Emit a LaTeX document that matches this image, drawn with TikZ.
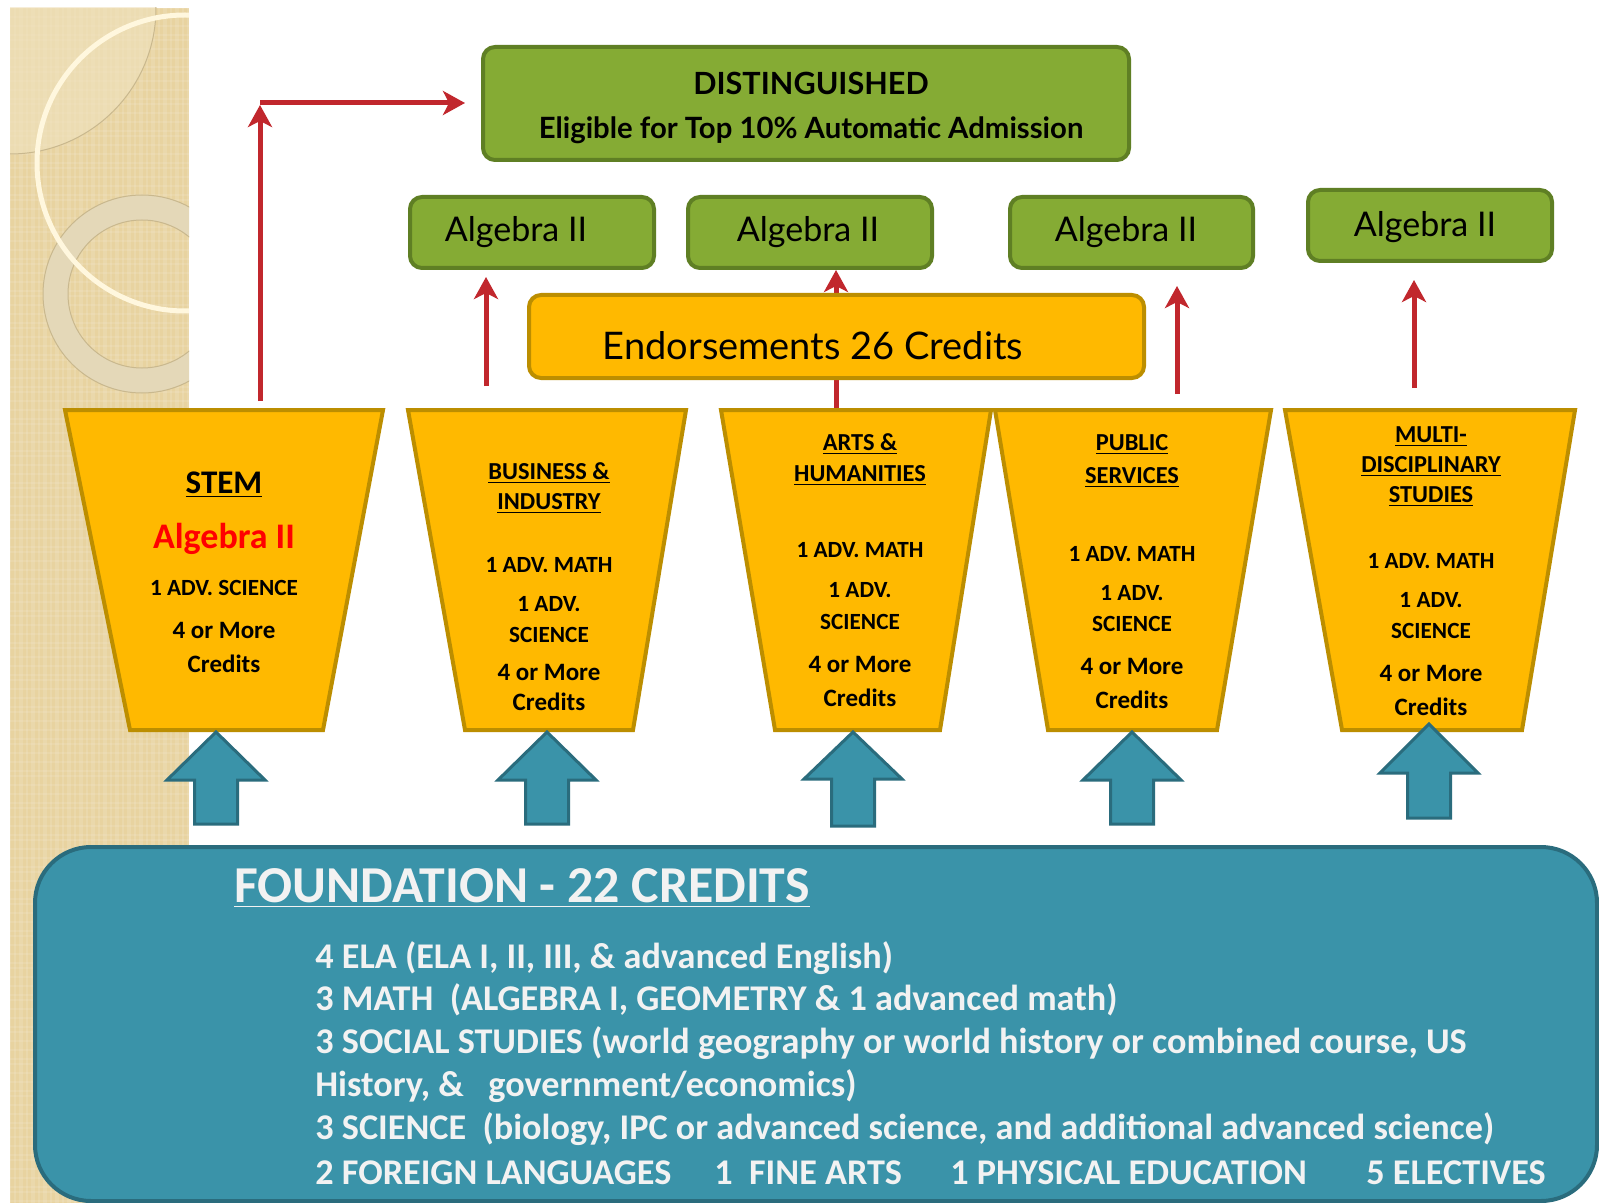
\documentclass[tikz,border=0pt]{standalone}
\usepackage{fontspec}
\setmainfont{Carlito}
\newfontfamily\gillf{Lato}
\usetikzlibrary{arrows.meta}
\definecolor{grnf}{HTML}{85AB34}
\definecolor{grnb}{HTML}{5F7F24}
\definecolor{ambf}{HTML}{FFB900}
\definecolor{ambb}{HTML}{BC8E00}
\definecolor{tealf}{HTML}{3A93A9}
\definecolor{tealb}{HTML}{2A6C7D}
\definecolor{redc}{HTML}{C1272D}
\definecolor{paper}{HTML}{E8D3A0}
\definecolor{paperl}{HTML}{F0E2BE}
\definecolor{ringc}{HTML}{E4D8B8}
\definecolor{ringb}{HTML}{C9B88E}
\definecolor{creamc}{HTML}{FFF7DE}
\definecolor{fndtxt}{HTML}{F2F2F2}
\newcommand\fsz[1]{\fontsize{#1}{#1}\selectfont}
\begin{document}
\begin{tikzpicture}[x=0.5pt,y=-0.5pt,
  greenbox/.style={draw=grnb, fill=grnf, line width=2pt, rounded corners=6pt, inner sep=0},
  ambbox/.style={draw=ambb, fill=ambf, line width=2pt, rounded corners=6pt, inner sep=0},
  trapz/.style={draw=ambb, fill=ambf, line width=2pt, line join=miter},
  bluearr/.style={draw=tealb, fill=tealf, line width=1.5pt, line join=miter},
  redarr/.style={draw=redc, line width=2.5pt, -{Stealth[length=11pt,width=12pt,inset=3pt]}},
  tx/.style={inner sep=0, anchor=mid},
  hd/.style={tx, font=\bfseries\fsz{12.2pt}},
  sm/.style={tx, font=\bfseries\fsz{11.6pt}},
  md/.style={tx, font=\bfseries\fsz{12.5pt}},
  alg/.style={tx, font=\gillf\fsz{17pt}},
  fl/.style={inner sep=0, anchor=mid west, text=fndtxt, font=\bfseries\fsz{18.1pt}}
]
\useasboundingbox (0,0) rectangle (1599,1203);
\fill[white] (0,0) rectangle (1599,1203);

% textured strip
\begin{scope}
\clip (10,8) rectangle (189,1203);
\fill[paper] (10,8) rectangle (189,1203);
\foreach \i in {0,...,44} {
  \draw[white, opacity=0.12, line width=0.6pt] ({10+\i*4+mod(\i*7,3)},8) -- ++(0,1195);
}
\foreach \j in {0,...,149} {
  \draw[white, opacity=0.10, line width=0.6pt] (10,{8+\j*8+mod(\j*5,4)}) -- ++(179,0);
}
\fill[paperl, opacity=0.6] (10,8) circle[radius=146];
\draw[ringb, line width=0.5pt] (10,8) circle[radius=146];
\fill[ringc, even odd rule] (142,294) circle[radius=99] (142,294) circle[radius=74];
\draw[ringb, line width=0.5pt] (142,294) circle[radius=99] (142,294) circle[radius=74];
\draw[creamc, line width=2.5pt] (185,163) circle[radius=148];
\end{scope}

% red connectors (drawn first, behind boxes)
\coordinate (s1) at (260,401);
\coordinate (s1t) at (260,105);
\coordinate (h1s) at (260,103);
\coordinate (h1e) at (465,103);
\coordinate (s2) at (486,386);
\coordinate (s2t) at (486,277);
\coordinate (s3) at (836,410);
\coordinate (s3t) at (836,270);
\coordinate (s4) at (1177,394);
\coordinate (s4t) at (1177,286);
\coordinate (s5) at (1414,388);
\coordinate (s5t) at (1414,280);
\draw[redarr] (s1) -- (s1t);
\draw[redarr] (h1s) -- (h1e);
\draw[redarr] (s2) -- (s2t);
\draw[redarr] (s3) -- (s3t);
\draw[redarr] (s4) -- (s4t);
\draw[redarr] (s5) -- (s5t);

% distinguished box
\node[greenbox, minimum width=323pt, minimum height=56.5pt] (dist) at (806,103.5) {};
\node[tx, font=\gillf\bfseries\fsz{15.3pt}] (distA) at (811,90) {DISTINGUISHED};
\node[tx, font=\gillf\bfseries\fsz{14.65pt}] (distB) at (811,134) {Eligible for Top 10\% Automatic Admission};

% algebra boxes
\node[greenbox, minimum width=122pt, minimum height=35.5pt] (alg1) at (532,232.5) {};
\node[greenbox, minimum width=122pt, minimum height=35.5pt] (alg2) at (810,232.5) {};
\node[greenbox, minimum width=121.5pt, minimum height=35.5pt] (alg3) at (1131.5,232.5) {};
\node[greenbox, minimum width=122pt, minimum height=35.5pt] (alg4) at (1430,225.5) {};
\node[alg] (alg1t) at (516,237) {Algebra II};
\node[alg] (alg2t) at (808,237) {Algebra II};
\node[alg] (alg3t) at (1126,237) {Algebra II};
\node[alg] (alg4t) at (1425,232) {Algebra II};

% endorsements
\node[ambbox, minimum width=307.5pt, minimum height=41.5pt] (endo) at (836.5,336.5) {};
\node[tx, font=\gillf\fsz{19pt}] (endot) at (813,355) {Endorsements 26 Credits};

% trapezoids
\draw[trapz] (65,410) -- (383,410) -- (323,730) -- (130,730) -- cycle;
\draw[trapz] (408,410) -- (686,410) -- (633,730) -- (465,730) -- cycle;
\draw[trapz] (721,410) -- (991,410) -- (940,730) -- (775,730) -- cycle;
\draw[trapz] (995,410) -- (1271,410) -- (1217,730) -- (1048,730) -- cycle;
\draw[trapz] (1285,410) -- (1575,410) -- (1522,730) -- (1342,730) -- cycle;

% STEM
\node[tx, font=\bfseries\fsz{16.5pt}] (t1a) at (224,489) {\underline{STEM}};
\node[tx, font=\bfseries\fsz{18pt}, text=red] (t1b) at (224,544) {Algebra II};
\node[sm] (t1c) at (224,591) {1 ADV. SCIENCE};
\node[md] (t1d) at (224,634) {4 or More};
\node[md] (t1e) at (224,668) {Credits};
% Business
\node[hd] (t2a) at (549,475) {\underline{BUSINESS \&}};
\node[hd] (t2b) at (549,505) {\underline{INDUSTRY}};
\node[sm] (t2c) at (549,568) {1 ADV. MATH};
\node[sm] (t2d) at (549,607) {1 ADV.};
\node[sm] (t2e) at (549,638) {SCIENCE};
\node[md] (t2f) at (549,676) {4 or More};
\node[md] (t2g) at (549,706) {Credits};
% Arts
\node[hd] (t3a) at (860,446) {\underline{ARTS \&}};
\node[hd] (t3b) at (860,477) {\underline{HUMANITIES}};
\node[sm] (t3c) at (860,553) {1 ADV. MATH};
\node[sm] (t3d) at (860,593) {1 ADV.};
\node[sm] (t3e) at (860,625) {SCIENCE};
\node[md] (t3f) at (860,668) {4 or More};
\node[md] (t3g) at (860,702) {Credits};
% Public
\node[hd] (t4a) at (1132,446) {\underline{PUBLIC}};
\node[hd] (t4b) at (1132,479) {\underline{SERVICES}};
\node[sm] (t4c) at (1132,557) {1 ADV. MATH};
\node[sm] (t4d) at (1132,596) {1 ADV.};
\node[sm] (t4e) at (1132,627) {SCIENCE};
\node[md] (t4f) at (1132,670) {4 or More};
\node[md] (t4g) at (1132,704) {Credits};
% Multi
\node[hd] (t5a) at (1431,438) {\underline{MULTI-}};
\node[hd] (t5b) at (1431,468) {\underline{DISCIPLINARY}};
\node[hd] (t5c) at (1431,498) {\underline{STUDIES}};
\node[sm] (t5d) at (1431,564) {1 ADV. MATH};
\node[sm] (t5e) at (1431,603) {1 ADV.};
\node[sm] (t5f) at (1431,634) {SCIENCE};
\node[md] (t5g) at (1431,677) {4 or More};
\node[md] (t5h) at (1431,711) {Credits};

% blue block arrows
\foreach \cx/\ty/\hb/\bt in {216/732/48/92, 547/732/48/92, 853/732/47/94, 1132/732/48/92, 1429/724/49/94} {
  \draw[bluearr] (\cx,\ty) -- (\cx+49,\ty+\hb) -- (\cx+21.5,\ty+\hb) -- (\cx+21.5,\ty+\bt)
    -- (\cx-21.5,\ty+\bt) -- (\cx-21.5,\ty+\hb) -- (\cx-49,\ty+\hb) -- cycle;
}

% foundation
\node[draw=tealb, fill=tealf, line width=2pt, rounded corners=28pt, inner sep=0,
      minimum width=781pt, minimum height=177pt] (fnd) at (816,1024) {};
\node[inner sep=0, anchor=mid west, text=fndtxt, font=\bfseries\fsz{25.9pt}] (fndt) at (234,898) {\underline{FOUNDATION - 22 CREDITS}};
\node[fl] (f1) at (315,964) {4 ELA (ELA I, II, III, \& advanced English)};
\node[fl] (f2) at (315,1006) {3 MATH\ \ (ALGEBRA I, GEOMETRY \& 1 advanced math)};
\node[fl] (f3) at (315,1049) {3 SOCIAL STUDIES (world geography or world history or combined course, US};
\node[fl] (f4) at (315,1092) {History, \&\ \ \ government/economics)};
\node[fl] (f5) at (315,1135) {3 SCIENCE\ \ (biology, IPC or advanced science, and additional advanced science)};
\node[fl] (f6a) at (315,1180) {2 FOREIGN LANGUAGES};
\node[fl] (f6b) at (714,1180) {1\ \ FINE ARTS};
\node[fl] (f6c) at (950,1180) {1 PHYSICAL EDUCATION};
\node[fl] (f6d) at (1366,1180) {5 ELECTIVES};
\end{tikzpicture}
\end{document}
